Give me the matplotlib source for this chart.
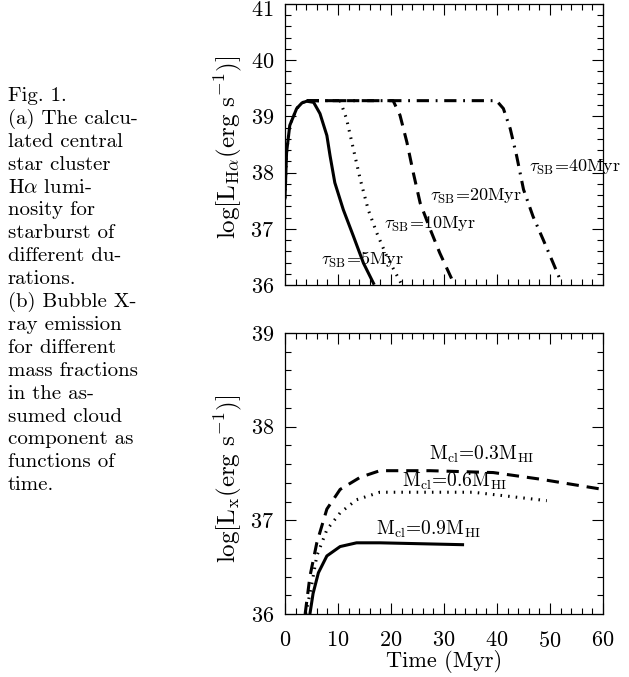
import matplotlib
matplotlib.use("Agg")
import matplotlib.pyplot as plt
import matplotlib.transforms as mtransforms
from matplotlib.ticker import MultipleLocator

plt.rcParams['font.family'] = ['cmr10', 'DejaVu Serif']
plt.rcParams['mathtext.fontset'] = 'cm'
plt.rcParams['axes.formatter.use_mathtext'] = True

# ---- Panel (a): H-alpha luminosity ----
t_5 = [0.0, 0.3, 0.9, 2.2, 3.2, 4.1, 5.4, 6.6, 7.9, 8.5, 9.4, 11.0, 12.9, 14.8, 16.7]
L_5 = [37.55, 38.36, 38.84, 39.14, 39.24, 39.27, 39.25, 39.05, 38.66, 38.3, 37.82, 37.34, 36.87, 36.39, 36.03]

t_10 = [0.0, 0.3, 0.9, 2.2, 3.2, 4.1, 10.4, 11.6, 12.9, 14.2, 15.7, 17.3, 19.2, 21.4, 21.9]
L_10 = [37.55, 38.36, 38.84, 39.14, 39.24, 39.28, 39.28, 38.96, 38.42, 37.88, 37.34, 36.93, 36.51, 36.12, 36.03]

t_20 = [4.1, 20.4, 21.7, 23.0, 24.2, 25.5, 27.4, 29.2, 31.4, 31.8]
L_20 = [39.28, 39.28, 39.02, 38.54, 38.0, 37.46, 36.99, 36.57, 36.12, 36.03]

t_40 = [4.1, 39.9, 41.2, 42.5, 43.7, 45.0, 46.8, 48.7, 50.6, 52.2]
L_40 = [39.28, 39.28, 39.14, 38.78, 38.3, 37.7, 37.22, 36.81, 36.39, 36.03]

labels_a = [r'$\tau_{\rm SB}$=5Myr', r'$\tau_{\rm SB}$=10Myr', r'$\tau_{\rm SB}$=20Myr', r'$\tau_{\rm SB}$=40Myr']
label_pos_a = [(6.8, 36.45), (18.6, 37.07), (27.4, 37.57), (46.1, 38.09)]

# ---- Panel (b): X-ray luminosity ----
t_03 = [3.8, 4.7, 6.0, 7.9, 10.4, 14.2, 17.9, 27.4, 39.3, 48.1, 60.0]
L_03 = [36.0, 36.40, 36.76, 37.12, 37.33, 37.46, 37.53, 37.53, 37.51, 37.44, 37.33]

t_06 = [3.9, 5.0, 6.0, 7.9, 10.4, 13.5, 17.9, 27.4, 35.5, 49.4]
L_06 = [36.0, 36.30, 36.62, 36.9, 37.08, 37.22, 37.30, 37.30, 37.30, 37.21]

t_09 = [4.7, 5.3, 6.3, 7.9, 10.4, 13.5, 17.9, 33.5]
L_09 = [36.0, 36.22, 36.44, 36.62, 36.72, 36.76, 36.76, 36.74]

labels_b = [r'M$_{\rm cl}$=0.3M$_{\rm HI}$', r'M$_{\rm cl}$=0.6M$_{\rm HI}$', r'M$_{\rm cl}$=0.9M$_{\rm HI}$']
label_pos_b = [(27.1, 37.70), (22.1, 37.42), (17.1, 36.90)]

caption = ["Fig. 1.", "(a) The calcu-", "lated central", "star cluster",
           r"H$\alpha$ lumi-", "nosity for", "starburst of", "different du-",
           "rations.", "(b) Bubble X-", "ray emission", "for different",
           "mass fractions", "in the as-", "sumed cloud", "component as",
           "functions of", "time."]

W, H = 629, 677
fig = plt.figure(figsize=(W / 100, H / 100), dpi=100)

left = 285 / W
width = 318 / W
ax1 = fig.add_axes([left, 1 - 285 / H, width, 281 / H])
ax2 = fig.add_axes([left, 1 - 614 / H, width, 281 / H])

lw = 2.2
dash = (0, (4, 2.6))
dot = (0, (0.5, 2.0))
dashdot = (0, (4, 2.2, 0.6, 2.2))

ax1.plot(t_5, L_5, color='black', lw=lw, ls='-')
ax1.plot(t_10, L_10, color='black', lw=lw, ls=dot)
ax1.plot(t_20, L_20, color='black', lw=lw, ls=dash)
ax1.plot(t_40, L_40, color='black', lw=lw, ls=dashdot)
for txt, (x, y) in zip(labels_a, label_pos_a):
    ax1.text(x, y, txt, fontsize=13, va='center', ha='left')

ax2.plot(t_03, L_03, color='black', lw=lw, ls=dash)
ax2.plot(t_06, L_06, color='black', lw=lw, ls=dot)
ax2.plot(t_09, L_09, color='black', lw=lw, ls='-')
for txt, (x, y) in zip(labels_b, label_pos_b):
    ax2.text(x, y, txt, fontsize=14, va='center', ha='left')

ax1.set_xlim(0, 60)
ax1.set_ylim(36, 41)
ax2.set_xlim(0, 60)
ax2.set_ylim(36, 39)

for ax in (ax1, ax2):
    ax.xaxis.set_major_locator(MultipleLocator(10))
    ax.xaxis.set_minor_locator(MultipleLocator(2))
    ax.yaxis.set_major_locator(MultipleLocator(1))
    ax.yaxis.set_minor_locator(MultipleLocator(0.2))
    ax.tick_params(which='both', direction='in', top=True, right=True, width=0.8, labelsize=16)
    ax.tick_params(which='major', length=8)
    ax.tick_params(which='minor', length=4)
    ax.tick_params(axis='y', pad=8)
    ax.tick_params(axis='x', pad=12)
    for s in ax.spines.values():
        s.set_linewidth(0.9)

ax1.tick_params(labelbottom=False)
ax1.set_ylabel(r'log[L$_{\rm H\alpha}$(erg s$^{-1}$)]', fontsize=18, va='center')
ax2.set_ylabel(r'log[L$_{\rm x}$(erg s$^{-1}$)]', fontsize=18, va='center')
ax1.yaxis.set_label_coords(-0.179, 0.49)
ax2.yaxis.set_label_coords(-0.179, 0.48)
ax2.set_xlabel('Time (Myr)', fontsize=16)
ax2.xaxis.set_label_coords(0.5, -0.128)

# nudge the topmost tick label down a little so it stays inside the figure
fig.canvas.draw()
for lab in ax1.get_yticklabels():
    if lab.get_text() and '41' in lab.get_text():
        lab.set_transform(lab.get_transform() + mtransforms.ScaledTranslation(0, -4 / 100, fig.dpi_scale_trans))

y0 = 101
step = 22.9
for i, line in enumerate(caption):
    fig.text(8 / W, 1 - (y0 + i * step) / H, line, fontsize=15, ha='left', va='baseline')

fig.savefig('out.png', dpi=100)
